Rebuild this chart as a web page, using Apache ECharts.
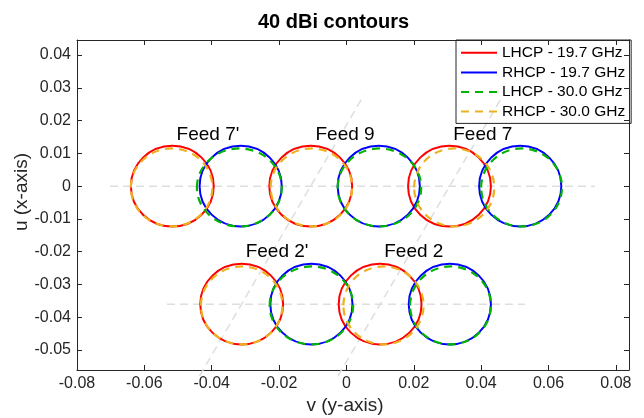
<!DOCTYPE html>
<html><head><meta charset="utf-8">
<script src="https://cdn.jsdelivr.net/npm/echarts@6/dist/echarts.min.js"></script>
<style>html,body{margin:0;padding:0;background:#fff}#c{width:644px;height:418px}</style>
</head><body><div id="c"></div>
<script>
// ---- tick labels ----
const xTicks = [-0.08,-0.06,-0.04,-0.02,0,0.02,0.04,0.06,0.08];
const yTicks = [-0.05,-0.04,-0.03,-0.02,-0.01,0,0.01,0.02,0.03,0.04];
// ---- feed labels ----
const feedNames  = ["Feed 7'","Feed 9","Feed 7","Feed 2'","Feed 2"];
const feedLabelX = [-0.0411,-0.0004,0.0405,-0.0206,0.0200];
const feedLabelY = [0.0156,0.0156,0.0156,-0.0201,-0.0201];
// ---- 40 dBi contours: centre (v,u) and half widths (v,u) ----
const lhcp197X  = [-0.0517,-0.0106,0.0306,-0.0311,0.0100];
const lhcp197Y  = [0,0,0,-0.036,-0.036];
const lhcp197Rv = [0.0123,0.0123,0.0123,0.0123,0.0123];
const lhcp197Ru = [0.0123,0.0123,0.0123,0.0123,0.0123];
const rhcp197X  = [-0.0314,0.0096,0.0516,-0.0104,0.0307];
const rhcp197Y  = [0,0,0,-0.036,-0.036];
const rhcp197Rv = [0.0122,0.0122,0.0122,0.0122,0.0122];
const rhcp197Ru = [0.0123,0.0123,0.0123,0.0123,0.0123];
const lhcp300X  = [-0.0318,0.0098,0.0520,-0.0104,0.0309];
const lhcp300Y  = [-0.0004,-0.0004,-0.0004,-0.0364,-0.0364];
const lhcp300Rv = [0.0126,0.0124,0.0120,0.0124,0.0120];
const lhcp300Ru = [0.0119,0.0119,0.0119,0.0119,0.0119];
const rhcp300X  = [-0.0519,-0.0104,0.0320,-0.0311,0.0110];
const rhcp300Y  = [-0.0004,-0.0004,-0.0004,-0.0364,-0.0364];
const rhcp300Rv = [0.0121,0.0121,0.0119,0.0121,0.0119];
const rhcp300Ru = [0.0119,0.0119,0.0119,0.0119,0.0119];
// ---- grey guide lines (endpoints) ----
const guideH0  = [[-0.0702,0],[0.0738,0]];
const guideH1  = [[-0.0533,-0.036],[0.0530,-0.036]];
const guideD0  = [[-0.0436,-0.0579],[0.0052,0.0278]];
const guideD1  = [[-0.0025,-0.0579],[0.0462,0.0272]];

const FONT = "'Liberation Sans', Arial, Helvetica, sans-serif";
const AX = '#262626';
const seriesNames = ['LHCP - 19.7 GHz','RHCP - 19.7 GHz','LHCP - 30.0 GHz','RHCP - 30.0 GHz'];
const seriesColors = ['#ff0000','#0000ff','#00b400','#edb120'];
const seriesDash = [null,null,[8,6],[8,6]];
const contourSets = [
  [lhcp197X,lhcp197Y,lhcp197Rv,lhcp197Ru],
  [rhcp197X,rhcp197Y,rhcp197Rv,rhcp197Ru],
  [lhcp300X,lhcp300Y,lhcp300Rv,lhcp300Ru],
  [rhcp300X,rhcp300Y,rhcp300Rv,rhcp300Ru]
];

function fmt(v){ return String(+v.toFixed(3)); }

const series = [];
// legend carriers (line style samples)
seriesNames.forEach((n,i)=>{
  series.push({type:'line', name:n, data:[], symbol:'none',
    lineStyle:{color:seriesColors[i], width:2, type: seriesDash[i] ? seriesDash[i] : 'solid'},
    itemStyle:{color:seriesColors[i], opacity:0}});
});
// guide lines
[guideH0,guideH1,guideD0,guideD1].forEach(g=>{
  series.push({type:'line', data:g, symbol:'none', silent:true, clip:false, z:1,
    lineStyle:{color:'#dedede', width:1.5, type:[8,5]}});
});
// contours
contourSets.forEach((s,i)=>{
  const data = s[0].map((x,k)=>[x, s[1][k], s[2][k], s[3][k]]);
  series.push({type:'custom', name:seriesNames[i], data:data, clip:false, z:3+i,
    encode:{x:0,y:1},
    renderItem:function(params, api){
      const c = api.coord([api.value(0), api.value(1)]);
      const sz = api.size([api.value(2), api.value(3)]);
      return {type:'ellipse', shape:{cx:c[0], cy:c[1], rx:sz[0], ry:sz[1]},
        style:{fill:'none', stroke:seriesColors[i], lineWidth: seriesDash[i]?2.2:2, lineDash: seriesDash[i]||null}};
    }});
});
// feed labels
series.push({type:'scatter', data: feedLabelX.map((x,k)=>({value:[x, feedLabelY[k]], name:feedNames[k]})),
  symbolSize:0, silent:true, z:10, itemStyle:{opacity:1},
  label:{show:true, position:'inside', formatter:'{b}', color:'#000', opacity:1, fontSize:19, fontFamily:FONT}});

const axisCommon = {
  axisLine:{show:true, onZero:false, lineStyle:{color:AX, width:1}},
  splitLine:{show:false}
};

const option = {
  animation:false,
  backgroundColor:'#fff',
  title:{text:'40 dBi contours', left:253, top:7,
    textStyle:{fontFamily:FONT, fontSize:20, fontWeight:'bold', color:'#000'}},
  grid:{left:77, right:15, top:40, bottom:48, containLabel:false},
  legend:{orient:'vertical', left:456, top:40, data:seriesNames,
    itemWidth:36, itemHeight:14, itemGap:0,
    itemStyle:{opacity:0},
    padding:[3,6,2,4], borderColor:AX, borderWidth:1, backgroundColor:'rgba(255,255,255,0)',
    textStyle:{fontFamily:FONT, fontSize:15.5, color:'#000', lineHeight:19.6},
    selectedMode:false},
  xAxis:[
    Object.assign({type:'value', min:-0.08, max:0.0839, position:'bottom',
      axisLabel:{customValues:xTicks, formatter:fmt, fontFamily:FONT, fontSize:16, color:AX, margin:6},
      axisTick:{show:true, inside:true, length:5, customValues:xTicks, lineStyle:{color:AX}}}, axisCommon),
    Object.assign({type:'value', min:-0.08, max:0.0839, position:'top',
      axisLabel:{show:false},
      axisTick:{show:true, inside:true, length:5, customValues:xTicks, lineStyle:{color:AX}}}, axisCommon)
  ],
  yAxis:[
    Object.assign({type:'value', min:-0.0561, max:0.0446, position:'left',
      axisLabel:{customValues:yTicks, formatter:fmt, fontFamily:FONT, fontSize:16, color:AX, margin:6},
      axisTick:{show:true, inside:true, length:5, customValues:yTicks, lineStyle:{color:AX}}}, axisCommon),
    Object.assign({type:'value', min:-0.0561, max:0.0446, position:'right',
      axisLabel:{show:false},
      axisTick:{show:true, inside:true, length:5, customValues:yTicks, lineStyle:{color:AX}}}, axisCommon)
  ],
  graphic:[
    {type:'text', x:22, y:192, rotation:Math.PI/2,
      style:{text:'u (x-axis)', font:'19px '+FONT, fill:AX, textAlign:'center', textVerticalAlign:'middle'}},
    {type:'text', x:345, y:406,
      style:{text:'v (y-axis)', font:'19px '+FONT, fill:AX, textAlign:'center', textVerticalAlign:'middle'}}
  ],
  series: series
};
const chart = echarts.init(document.getElementById('c'), null, {renderer:'canvas'});
chart.setOption(option);
</script></body></html>
